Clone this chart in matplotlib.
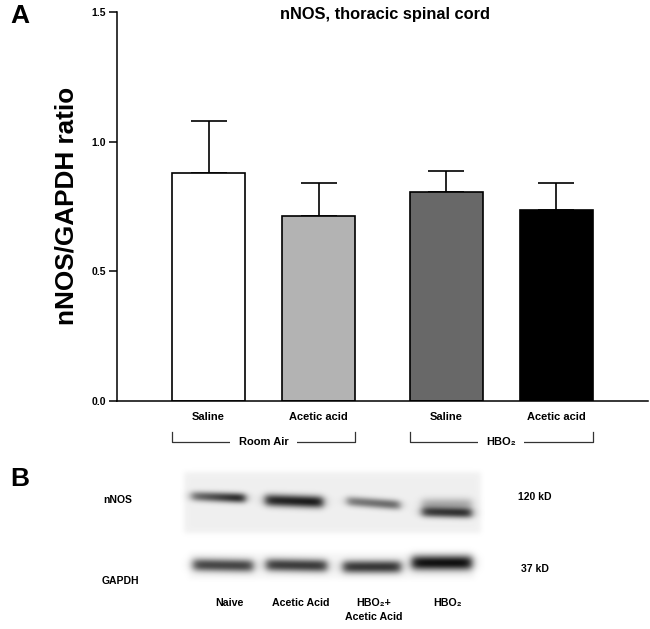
import numpy as np
import matplotlib
matplotlib.use("Agg")
import matplotlib.pyplot as plt
import matplotlib.transforms as mtransforms

plt.rcParams['font.family'] = ['Liberation Sans', 'DejaVu Sans']

# panel A data
categories = ["Saline", "Acetic acid", "Saline", "Acetic acid"]
groups = ["Room Air", "HBO\u2082"]
means = [0.879, 0.713, 0.806, 0.737]
errors = [0.201, 0.128, 0.081, 0.104]
bar_colors = ["white", "#b3b3b3", "#686868", "black"]
y_ticks = [0.0, 0.5, 1.0, 1.5]

# panel B labels
lane_labels = ["Naive", "Acetic Acid", "HBO\u2082+\nAcetic Acid", "HBO\u2082"]

# blot bands (pixel layout): x left, x right, y centre left, y centre right, half height, darkness left, darkness right
nnos_bands = [
    (191, 245, 496, 498, 5.0, 0.50, 0.88),
    (265, 323, 500, 502, 6.2, 0.82, 0.90),
    (347, 400, 501, 505, 5.0, 0.48, 0.56),
    (422, 472, 512, 513, 5.2, 0.70, 0.78),
]
gapdh_bands = [
    (193, 253, 565, 566, 6.5, 0.70, 0.72),
    (266, 327, 565, 566, 6.5, 0.74, 0.76),
    (343, 401, 567, 567, 6.5, 0.76, 0.78),
    (412, 472, 563, 563, 7.5, 0.92, 0.94),
]

W, H = 650, 629
fig = plt.figure(figsize=(6.5, 6.29), dpi=100)

ax = fig.add_axes([117 / W, 1 - 401 / H, (648 - 117) / W, (401 - 12) / H])
ax.patch.set_alpha(0)

pos = np.array([0, 1, 2.159, 3.159])
bw = 0.664
ax.bar(pos, means, width=bw, color=bar_colors, edgecolor="black", linewidth=1.2, zorder=2)
ax.errorbar(pos, means, yerr=[np.zeros(4), errors], fmt="none", ecolor="black",
            elinewidth=1.2, capsize=13, capthick=1.2, zorder=1)

ax.set_xlim(-0.832, 3.995)
ax.set_ylim(0, 1.5)
ax.set_yticks(y_ticks)
ax.set_yticklabels([f"{t:.1f}" for t in y_ticks], fontsize=7.5, fontweight="bold")
ax.set_xticks(pos)
ax.set_xticklabels(categories, fontsize=8, fontweight="bold")
ax.tick_params(axis="x", length=0, pad=8)
ax.tick_params(axis="y", length=5.8, width=1.1, pad=2)
for s in ["top", "right"]:
    ax.spines[s].set_visible(False)
for s in ["left", "bottom"]:
    ax.spines[s].set_linewidth(1.1)

# group brackets under the bars
tr = mtransforms.blended_transform_factory(ax.transData, ax.transAxes)
yb, yt = (401 - 441.6) / 389, (401 - 432) / 389
for g, (i, j) in zip(groups, [(0, 1), (2, 3)]):
    xl, xr = pos[i] - bw / 2, pos[j] + bw / 2
    ax.plot([xl, xl, xr, xr], [yt, yb, yb, yt], color="#333333", lw=0.9,
            transform=tr, clip_on=False)
    ax.text((xl + xr) / 2, yb, g, transform=tr, ha="center", va="center",
            fontsize=8, fontweight="bold",
            bbox=dict(facecolor="white", edgecolor="none", pad=6))

# overlay in pixel coordinates
ov = fig.add_axes([0, 0, 1, 1])
ov.set_xlim(0, W)
ov.set_ylim(H, 0)
ov.axis("off")

ov.text(384.5, 15, "nNOS, thoracic spinal cord", ha="center", va="center",
        fontsize=11.8, fontweight="bold")
ov.text(67, 206, "nNOS/GAPDH ratio", rotation=90, ha="center", va="center",
        fontsize=18.8, fontweight="bold")
ov.text(10, 16, "A", ha="left", va="center", fontsize=19, fontweight="bold")
ov.text(10, 479, "B", ha="left", va="center", fontsize=19, fontweight="bold")

# blot image
x0, x1, y0, y1 = 180, 485, 466, 582
xs = np.linspace(x0, x1, (x1 - x0) * 2)
ys = np.linspace(y0, y1, (y1 - y0) * 2)
X, Y = np.meshgrid(xs, ys)


def sig(z):
    return 1 / (1 + np.exp(-z))


def box(xl, xr, yl, yr, soft):
    return sig((X - xl) / soft) * sig((xr - X) / soft) * sig((Y - yl) / soft) * sig((yr - Y) / soft)


bg = 1 - 0.06 * box(184, 481, 472, 533, 1.5) - 0.035 * box(189, 475, 553, 579, 1.5)
dens = np.zeros_like(X)
for (xl, xr, yl, yr, hh, dl, dr) in nnos_bands + gapdh_bands:
    f = np.clip((X - xl) / (xr - xl), 0, 1)
    yc = yl + (yr - yl) * f
    d = dl + (dr - dl) * f
    dens += d * sig((X - xl) / 2.5) * sig((xr - X) / 2.5) * np.exp(-np.abs((Y - yc) / hh) ** 2.2)
# faint smear above the last nNOS band
dens += 0.28 * sig((X - 422) / 2.5) * sig((472 - X) / 2.5) * np.exp(-np.abs((Y - 504) / 6.0) ** 2)
img = np.clip(bg * (1 - np.clip(dens, 0, 0.97)), 0, 1)
ov.imshow(img, cmap="gray", vmin=0, vmax=1, extent=(x0, x1, y1, y0),
          interpolation="bilinear", aspect="auto", zorder=0)
ov.set_xlim(0, W)
ov.set_ylim(H, 0)

narrow = ['Liberation Sans Narrow', 'Liberation Sans', 'DejaVu Sans']
ov.text(118, 500, "nNOS", ha="center", va="center", fontsize=7.5, family=narrow, fontweight="bold")
ov.text(120, 581, "GAPDH", ha="center", va="center", fontsize=7.5, family=narrow, fontweight="bold")
ov.text(535, 497, "120 kD", ha="center", va="center", fontsize=7.5, family=narrow, fontweight="bold")
ov.text(535, 569, "37 kD", ha="center", va="center", fontsize=7.5, family=narrow, fontweight="bold")
lane_x = [229, 301, 374, 447]
for lx, lab in zip(lane_x, lane_labels):
    ov.text(lx, 598, lab, ha="center", va="top", fontsize=7.7, family=narrow,
            fontweight="bold", linespacing=1.45)

fig.savefig("out.png", dpi=100)
